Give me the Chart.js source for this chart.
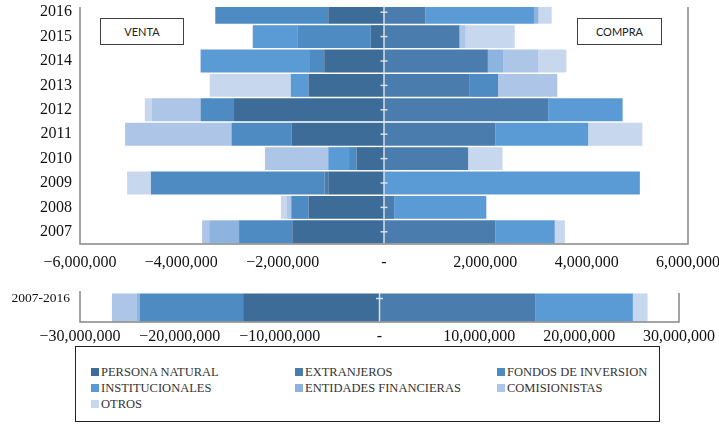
<!DOCTYPE html>
<html>
<head>
<meta charset="utf-8">
<script src="https://cdn.jsdelivr.net/npm/chart.js@4/dist/chart.umd.min.js"></script>
<style>
  html,body{margin:0;padding:0;background:#fff;}
  body{width:719px;height:424px;overflow:hidden;position:relative;font-family:"Liberation Serif","Times New Roman",serif;}
  #c1{position:absolute;left:0;top:0;}
  #c2{position:absolute;left:0;top:285px;}
  .tb{position:absolute;box-sizing:border-box;border:1.5px solid #3f3f3f;background:#fff;
      font-family:Lato,"Liberation Sans",sans-serif;font-size:11px;color:#222;
      display:flex;align-items:center;justify-content:center;}
  #legendBox{position:absolute;left:75px;top:346px;width:585px;height:76px;box-sizing:border-box;border:1.5px solid #222;}
  .li{position:absolute;height:14px;line-height:14px;font-size:12.5px;color:#333;white-space:nowrap;}
  .sw{display:inline-block;width:8px;height:8px;margin-right:2px;vertical-align:0px;}
</style>
</head>
<body>
<canvas id="c1" width="760" height="280"></canvas>
<canvas id="c2" width="760" height="60"></canvas>
<div class="tb" style="left:100px;top:18px;width:84px;height:27px;">VENTA</div>
<div class="tb" style="left:577px;top:18px;width:85px;height:27px;">COMPRA</div>
<div id="legendBox"></div>
<div id="legend"></div>
<script>
// ---------------- DATA ----------------
const YEARS = ['2016','2015','2014','2013','2012','2011','2010','2009','2008','2007'];
const SERIES = ['PERSONA NATURAL','EXTRANJEROS','FONDOS DE INVERSION','INSTITUCIONALES','ENTIDADES FINANCIERAS','COMISIONISTAS','OTROS'];
const COLORS = ['#3E6C98','#4A7DAE','#4F8BC3','#5A9BD5','#8DB3DF','#ADC5E6','#C6D7EE'];

// net position per year (negative = VENTA, positive = COMPRA)
const personaNatural       = [-1100000, -260000,-1180000,-1490000,-2960000,-1820000, -540000,-1100000,-1490000,-1810000];
const extranjeros          = [  820000, 1490000, 2050000, 1680000, 3240000, 2200000, 1660000,  -70000,  200000, 2200000];
const fondosInversion      = [-2230000,-1440000, -280000,  570000, -660000,-1190000, -150000,-3430000, -340000,-1050000];
const institucionales      = [ 2140000, -890000,-2160000, -350000, 1470000, 1830000, -410000, 5050000, 1820000, 1170000];
const entidadesFinancieras = [   90000,    null,  300000,    null,    null,    null,    null,    null,    null, -590000];
const comisionistas        = [    null,  120000,  700000, 1170000, -960000,-2100000,-1250000,    null,  -85000, -140000];
const otros                = [  260000,  970000,  550000,-1600000, -140000, 1070000,  680000, -470000, -120000,  200000];

const PERIOD = ['2007-2016'];
const periodTotals = [-13660000, 15640000, -10350000, 9740000, -290000, -2500000, 1470000];

const TOP_TICKS = {min:-6000000, max:6000000, step:2000000};
const BOTTOM_TICKS = {min:-30000000, max:30000000, step:10000000};

const yearly = [personaNatural, extranjeros, fondosInversion, institucionales, entidadesFinancieras, comisionistas, otros];

// ---------------- HELPERS ----------------
Chart.defaults.font.family = 'Liberation Serif';
const fmt = v => v === 0 ? '-' : (v < 0 ? '\u2212' : '') + Math.abs(v).toLocaleString('en-US');
const FONT = {family:'Liberation Serif', size:16};

function framePlugin(o){
  return {
    id:'frame'+o.id,
    afterDatasetsDraw(chart){
      const {ctx, chartArea:a, scales} = chart;
      const x0 = scales.x.getPixelForValue(0);
      ctx.save();
      ctx.strokeStyle = 'rgba(222,228,236,0.95)';
      ctx.lineWidth = 1.5;
      ctx.beginPath(); ctx.moveTo(x0, a.top + o.topCut); ctx.lineTo(x0, a.bottom); ctx.stroke();
      scales.y.ticks.forEach((t,i)=>{
        const y = scales.y.getPixelForValue(i) + o.tickShift;
        ctx.beginPath(); ctx.moveTo(x0-3.5, y); ctx.lineTo(x0+3.5, y); ctx.stroke();
      });
      ctx.strokeStyle = '#868686';
      ctx.lineWidth = 1.5;
      ctx.beginPath();
      ctx.moveTo(a.left, a.top + o.topCut - o.leftExtra);
      ctx.lineTo(a.left, a.bottom);
      ctx.lineTo(a.right, a.bottom);
      ctx.lineTo(a.right, a.top + o.topCut);
      ctx.stroke();
      ctx.restore();
    }
  };
}

function makeChart(canvas, labels, datasets, ticksCfg, cfg){
  return new Chart(canvas, {
    type:'bar',
    data:{labels, datasets},
    options:{
      indexAxis:'y',
      responsive:false,
      animation:false,
      devicePixelRatio:1,
      layout:{padding:{left:0, top:cfg.padTop, right:760-cfg.right, bottom:0}},
      plugins:{legend:{display:false}, tooltip:{enabled:false}},
      datasets:{bar:{categoryPercentage:cfg.catPct, barPercentage:1, borderWidth:0,
        clip:{left:0, top:-cfg.topCut, right:0, bottom:0}}},
      scales:{
        x:{
          stacked:true, min:ticksCfg.min, max:ticksCfg.max,
          grid:{display:false, drawTicks:false}, border:{display:false},
          ticks:{stepSize:ticksCfg.step, callback:v=>fmt(v), font:FONT, color:'#111', padding:cfg.xPad, maxRotation:0, autoSkip:false},
          afterFit(s){ s.height = cfg.xH; s.paddingLeft = 0; s.paddingRight = 0; }
        },
        y:{
          stacked:true,
          grid:{display:false, drawTicks:false}, border:{display:false},
          ticks:{font:cfg.yFont, color:'#111', padding:cfg.yPad, labelOffset:cfg.labelOffset||0},
          afterFit(s){ s.width = 80; s.paddingTop = 0; s.paddingBottom = 0; }
        }
      }
    },
    plugins:[framePlugin({id:cfg.id, topCut:cfg.topCut, tickShift:cfg.tickShift||0, leftExtra:cfg.leftExtra||0})]
  });
}

// ---------------- TOP CHART ----------------
makeChart(document.getElementById('c1'), YEARS,
  SERIES.map((name,i)=>({label:name, data:yearly[i], backgroundColor:COLORS[i]})),
  TOP_TICKS,
  {id:1, padTop:0, right:688, catPct:0.94, topCut:7, xH:36, xPad:9, yPad:8, yFont:FONT});

// ---------------- BOTTOM CHART ----------------
makeChart(document.getElementById('c2'), PERIOD,
  SERIES.map((name,i)=>({label:name, data:[periodTotals[i]], backgroundColor:COLORS[i]})),
  BOTTOM_TICKS,
  {id:2, padTop:8, right:679, catPct:0.97, topCut:0, xH:23, xPad:5, yPad:10,
   yFont:{family:'Liberation Serif', size:13.5}, labelOffset:-9, tickShift:-9, leftExtra:2});

// ---------------- LEGEND ----------------
const colX = [91, 295, 497];
const rowY = [372, 388, 404];
const legend = document.getElementById('legend');
SERIES.forEach((name,i)=>{
  const d = document.createElement('div');
  d.className = 'li';
  d.style.left = colX[i%3] + 'px';
  d.style.top = (rowY[Math.floor(i/3)] - 7) + 'px';
  d.innerHTML = '<span class="sw" style="background:'+COLORS[i]+'"></span>' + name;
  legend.appendChild(d);
});
</script>
</body>
</html>
